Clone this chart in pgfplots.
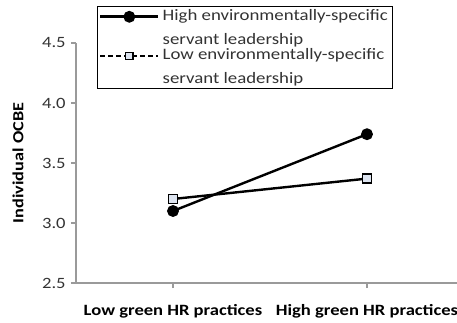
\documentclass[border=0pt]{standalone}
\usepackage{pgfplots}
\pgfplotsset{compat=1.18}
\usepackage{fontspec}
\setmainfont[FakeStretch=1.18]{Carlito}
\definecolor{axgray}{HTML}{9A9A9A}
\definecolor{sqfill}{HTML}{DDE4F0}
\definecolor{txt}{HTML}{333333}
\begin{document}
\fontsize{15.5}{19}\selectfont
\begin{tikzpicture}
\begin{axis}[
  at={(76bp,40bp)}, anchor=south west,
  scale only axis, width=381bp, height=240bp,
  xmin=-0.5, xmax=1.464, ymin=2.5, ymax=4.5,
  axis x line=bottom, axis y line=left,
  axis line style={-, draw=axgray, line width=1.2bp},
  xtick={0,1},
  xticklabels={Low green HR practices, High green HR practices},
  xticklabel style={font=\fontsize{15.8}{19}\selectfont\bfseries, text=black, yshift=-11bp},
  ytick={2.5,3,3.5,4,4.5},
  yticklabel style={font=\fontsize{15.8}{19}\selectfont, text=txt,
     /pgf/number format/.cd, fixed, fixed zerofill, precision=1},
  /pgf/number format/assume math mode=true,
  tick style={draw=axgray, line width=1.2bp},
  tick align=outside, major tick length=5bp,
  ylabel={\bfseries Individual OCBE},
  ylabel style={at={(axis description cs:-0.152,0.5)}, anchor=center,
     font=\fontsize{15.5}{19}\selectfont, text=black},
  clip=false,
  legend style={at={(axis description cs:0.055,1.154)}, anchor=north west,
     draw=black, line width=1.2bp, fill=white,
     font=\fontsize{16}{24}\selectfont, text=txt,
     inner xsep=1.5bp, inner ysep=2.5bp, row sep=2bp,
     nodes={inner xsep=3bp, inner ysep=0bp},
     cells={align=left}},
  legend cell align=left,
  legend image code/.code={%
     \draw[#1, line width=2.6bp] (0bp,11bp) -- (58bp,11bp);
     \draw[#1, every mark/.append style={solid}] plot coordinates {(29bp,11bp)};},
]
\addplot[black, line width=2.4bp, mark=*, mark size=4.7bp, mark options={fill=black}]
  coordinates {(0,3.10) (1,3.74)};
\addlegendentry{High environmentally-specific\\servant leadership}
\addplot[black, line width=2.4bp, mark=square*, mark size=4.4bp,
   mark options={fill=sqfill, draw=black, line width=1.6bp}, forget plot]
  coordinates {(0,3.20) (1,3.37)};
\addlegendimage{black, line width=2.6bp, dash pattern=on 5bp off 3bp, mark=square*, mark size=3.6bp,
   mark options={fill=sqfill, draw=black, line width=1.4bp, solid}}
\addlegendentry{Low environmentally-specific\\servant leadership}
\end{axis}
\pgfresetboundingbox
\path[use as bounding box] (0,0) rectangle (457bp,323bp);
\end{tikzpicture}
\end{document}
